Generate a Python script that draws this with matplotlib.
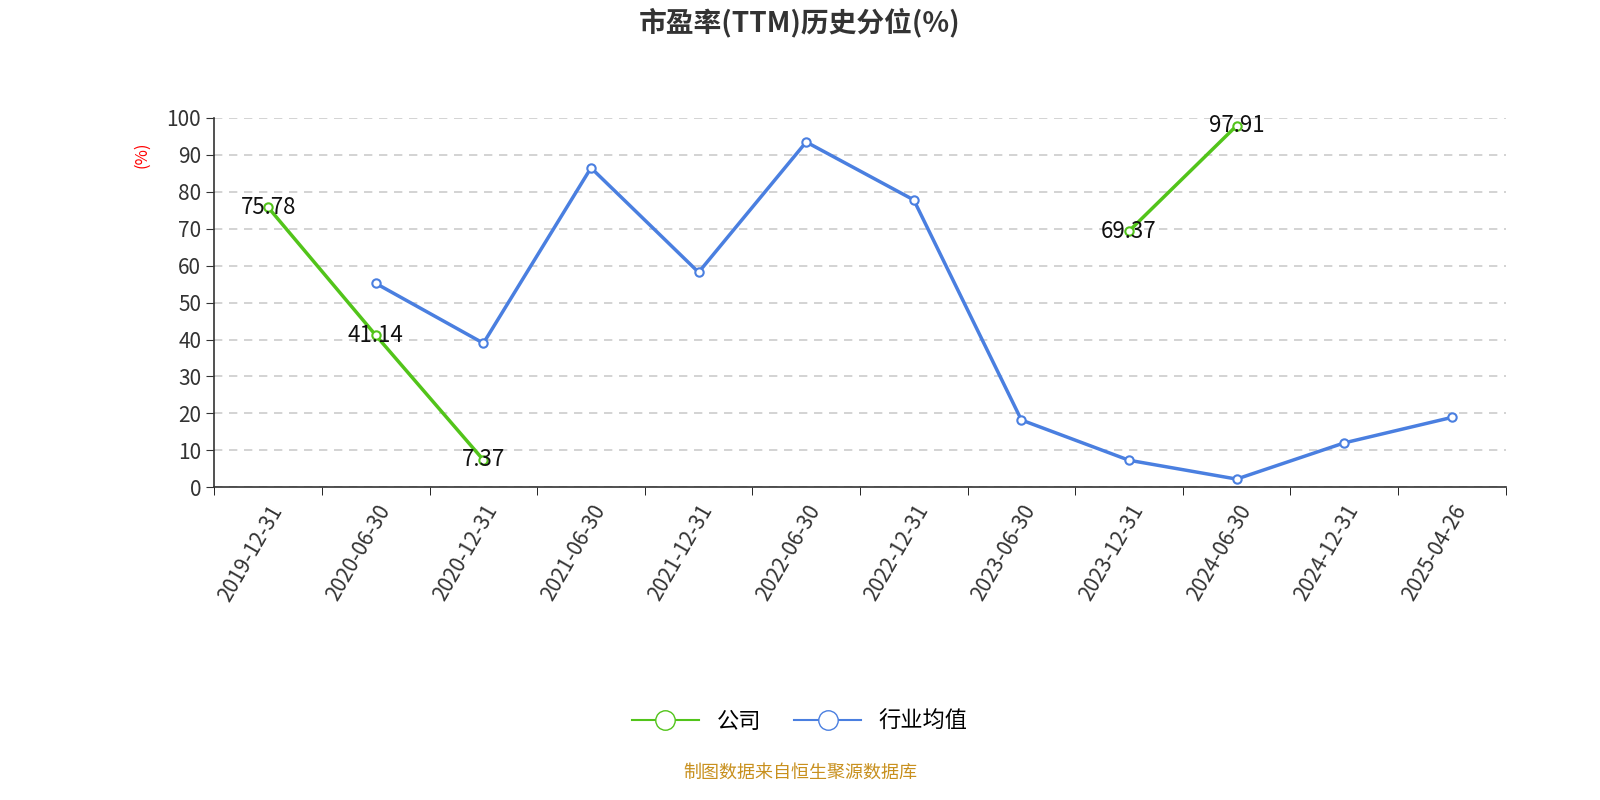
import matplotlib
matplotlib.use('Agg')
import matplotlib.pyplot as plt
import numpy as np

plt.rcParams['font.family'] = ['Noto Sans CJK SC', 'DejaVu Sans']

dates = ['2019-12-31','2020-06-30','2020-12-31','2021-06-30','2021-12-31','2022-06-30',
         '2022-12-31','2023-06-30','2023-12-31','2024-06-30','2024-12-31','2025-04-26']
company = [75.78, 41.14, 7.37, None, None, None, None, None, 69.37, 97.91, None, None]
industry = [None, 55.2, 39.0, 86.5, 58.2, 93.5, 77.8, 18.2, 7.3, 2.2, 12.0, 18.9]

def arr(v):
    return np.array([np.nan if x is None else x for x in v], dtype=float)

fig = plt.figure(figsize=(16, 8), dpi=100)
ax = fig.add_axes([0.134, 0.391, 0.807, 0.4615])
x = np.arange(len(dates))
green = '#52c41a'; blue = '#4a7fe0'
ax.plot(x, arr(company), color=green, lw=2.5, marker='o', ms=6, mfc='white', mec=green, mew=1.5, zorder=3)
ax.plot(x, arr(industry), color=blue, lw=2.5, marker='o', ms=6, mfc='white', mec=blue, mew=1.5, zorder=3)
for xi, v in zip(x, company):
    if v is not None:
        ax.text(xi, v, f'{v:.2f}', ha='center', va='center', fontsize=16, color='#111', zorder=4)

ax.set_xlim(-0.5, len(dates) - 0.5)
ax.set_ylim(0, 100)
ax.set_yticks(range(0, 101, 10))
ax.tick_params(axis='y', labelsize=15, colors='#333', length=6)
ax.set_xticks(x)
ax.set_xticklabels(dates, rotation=60, ha='right', rotation_mode='anchor', fontsize=15, color='#333')
ax.tick_params(axis='x', which='major', length=0, pad=10)
ax.set_xticks(np.arange(-0.5, len(dates), 1), minor=True)
ax.tick_params(axis='x', which='minor', length=6)
ax.grid(axis='y', ls=(0, (5, 4)), color='#cccccc', lw=1.2)
for s in ['top', 'right']:
    ax.spines[s].set_visible(False)
ax.spines['left'].set_color('#333'); ax.spines['bottom'].set_color('#333')
ax.spines['left'].set_linewidth(1.2); ax.spines['bottom'].set_linewidth(1.2)
ax.set_ylabel('(%)', color='red', fontsize=12, labelpad=2)
ax.yaxis.set_label_coords(-0.05, 0.9)

fig.text(0.5, 0.972, '市盈率(TTM)历史分位(%)', ha='center', va='center', fontsize=20, fontweight='bold', color='#333')

from matplotlib.lines import Line2D
h = [Line2D([], [], color=green, lw=1.5, marker='o', ms=14, mfc='white', mec=green),
     Line2D([], [], color=blue, lw=1.5, marker='o', ms=14, mfc='white', mec=blue)]
fig.legend(h, ['公司', '行业均值'], loc='center', bbox_to_anchor=(0.5, 0.098), ncol=2, frameon=False,
           fontsize=16, handlelength=3, columnspacing=1.5)
fig.text(0.5, 0.034, '制图数据来自恒生聚源数据库', ha='center', va='center', fontsize=13, color='#c8901e')
fig.savefig('out.png')
